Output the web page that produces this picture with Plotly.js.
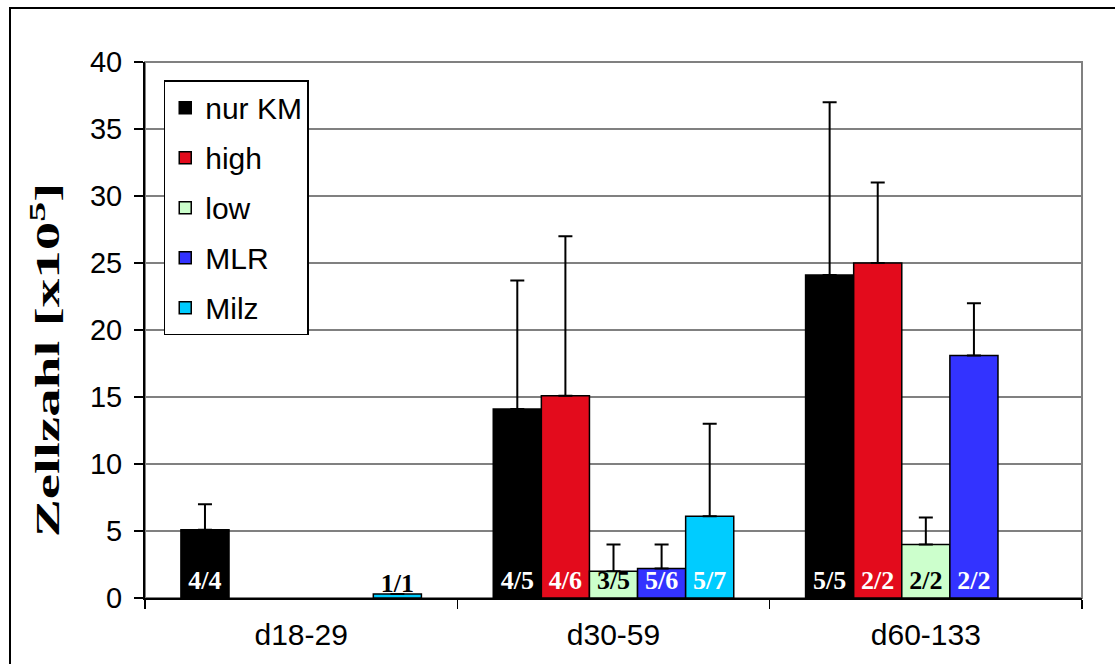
<!DOCTYPE html>
<html>
<head>
<meta charset="utf-8">
<script src="https://cdn.plot.ly/plotly-3.0.1.min.js"></script>
<style>
html,body{margin:0;padding:0;background:#fff;overflow:hidden;}
#wrap{position:relative;width:1115px;height:664px;}
#chart{width:1115px;height:664px;}
#frame{position:absolute;left:9px;top:7px;width:1200px;height:800px;border:2px solid #000;pointer-events:none;}
</style>
</head>
<body>
<div id="wrap"><div id="chart"></div><div id="frame"></div></div>
<script>
var categories = ['d18-29', 'd30-59', 'd60-133'];
var seriesNames = ['nur KM', 'high', 'low', 'MLR', 'Milz'];
var seriesColors = ['#000000', '#E30B1C', '#CCFFCC', '#3333FF', '#00CCFF'];

var nurKM = [5.1, 14.1, 24.1];
var high  = [null, 15.1, 25.0];
var low   = [null, 2.0, 4.0];
var MLR   = [null, 2.2, 18.1];
var Milz  = [0.3, 6.1, null];

var nurKM_sd = [1.9, 9.6, 12.9];
var high_sd  = [0, 11.9, 6.0];
var low_sd   = [0, 2.0, 2.0];
var MLR_sd   = [0, 1.8, 3.9];
var Milz_sd  = [0, 6.9, 0];

var nurKM_n = ['4/4', '4/5', '5/5'];
var high_n  = ['', '4/6', '2/2'];
var low_n   = ['', '3/5', '2/2'];
var MLR_n   = ['', '5/6', '2/2'];
var Milz_n  = ['1/1', '5/7', ''];

var nurKM_tc = ['#fff', '#fff', '#fff'];
var high_tc  = ['#fff', '#fff', '#fff'];
var low_tc   = ['#000', '#000', '#000'];
var MLR_tc   = ['#fff', '#fff', '#fff'];
var Milz_tc  = ['#000', '#fff', '#fff'];

var values = [nurKM, high, low, MLR, Milz];
var sds = [nurKM_sd, high_sd, low_sd, MLR_sd, Milz_sd];
var labels = [nurKM_n, high_n, low_n, MLR_n, Milz_n];
var tcolors = [nurKM_tc, high_tc, low_tc, MLR_tc, Milz_tc];

var traces = seriesNames.map(function(name, i){
  return {
    type: 'bar',
    name: name,
    x: categories,
    y: values[i],
    legendgroup: 'g' + i,
    marker: {color: seriesColors[i], line: {color: '#000', width: 1.5}},
    error_y: {type: 'data', symmetric: false, array: sds[i], arrayminus: [0,0,0],
              color: '#000', thickness: 2, width: 7},
    text: labels[i],
    textposition: 'inside',
    insidetextanchor: 'start',
    constraintext: 'none',
    textangle: 0,
    cliponaxis: false,
    textfont: {family: 'Liberation Serif, Times New Roman, serif', size: 26, color: tcolors[i], weight: 'bold'},
    hoverinfo: 'skip'
  };
});

var layout = {
  width: 1115, height: 664,
  margin: {l: 145, r: 33, t: 62, b: 66},
  paper_bgcolor: '#fff', plot_bgcolor: '#fff',
  barmode: 'group',
  bargap: 0.23, bargroupgap: 0,
  font: {family: 'Liberation Sans, Arial, sans-serif', color: '#000'},
  showlegend: true,
  legend: {
    x: 0.02, y: 0.966, xanchor: 'left', yanchor: 'top',
    bgcolor: '#fff', bordercolor: '#000', borderwidth: 1.5,
    font: {size: 30, family: 'Liberation Sans, Arial, sans-serif'},
    tracegroupgap: 8, traceorder: 'grouped'
  },
  xaxis: {
    type: 'category',
    showline: true, linecolor: '#000', linewidth: 2,
    ticks: 'outside', tickson: 'boundaries', ticklen: 9, tickcolor: '#000', tickwidth: 1.5,
    tickfont: {size: 30},
    ticklabelstandoff: 9,
    showgrid: false, fixedrange: true
  },
  yaxis: {
    range: [0, 40], dtick: 5, tick0: 0,
    showline: true, linecolor: '#000', linewidth: 2,
    ticks: 'outside', ticklen: 9, tickcolor: '#000', tickwidth: 1.5,
    tickfont: {size: 29},
    ticklabelstandoff: 6,
    showgrid: true, gridcolor: '#808080', gridwidth: 1.5,
    zeroline: false,
    title: {text: '<b>Zellzahl [x10<sup>5</sup>]</b>', font: {family: 'Liberation Serif, Times New Roman, serif', size: 34}, standoff: 18},
    fixedrange: true
  },
  shapes: [{type: 'rect', xref: 'paper', yref: 'paper', x0: 0, x1: 1, y0: 0, y1: 1,
            line: {color: '#808080', width: 2}, layer: 'below'}]
};

Plotly.newPlot('chart', traces, layout, {displayModeBar: false, staticPlot: true}).then(function(gd){
  var t = gd.querySelector('.ytitle');
  if (t) {
    var x = parseFloat(t.getAttribute('x')), y = parseFloat(t.getAttribute('y'));
    t.setAttribute('transform', 'rotate(-90,' + x + ',' + y + ') translate(-30,-2) translate(' + x + ',' + y + ') scale(1.68,1) translate(' + (-x) + ',' + (-y) + ')');
  }
});
</script>
</body>
</html>
